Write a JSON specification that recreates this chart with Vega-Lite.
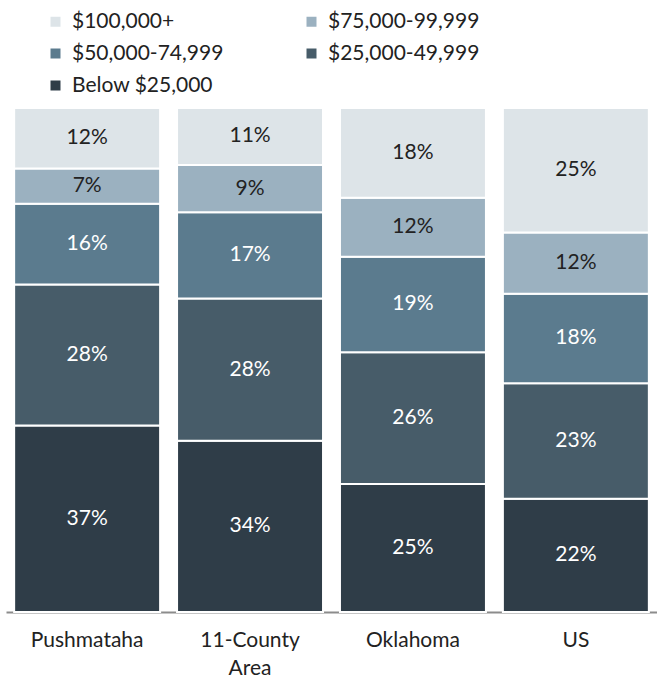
{
  "$schema": "https://vega.github.io/schema/vega-lite/v6.json",
  "width": 651,
  "height": 504,
  "autosize": {"type": "none"},
  "padding": {"left": 6, "top": 108, "right": 0, "bottom": 77},
  "config": {
    "view": {"stroke": null},
    "font": "Lato",
    "text": {"font": "Lato"}
  },
  "data": {
    "values": [
      {"area": "Pushmataha", "bracket": "Below $25,000", "ord": 1, "pct": 37, "label": "37%"},
      {"area": "Pushmataha", "bracket": "$25,000-49,999", "ord": 2, "pct": 28, "label": "28%"},
      {"area": "Pushmataha", "bracket": "$50,000-74,999", "ord": 3, "pct": 16, "label": "16%"},
      {"area": "Pushmataha", "bracket": "$75,000-99,999", "ord": 4, "pct": 7, "label": "7%"},
      {"area": "Pushmataha", "bracket": "$100,000+", "ord": 5, "pct": 12, "label": "12%"},
      {"area": "11-County Area", "bracket": "Below $25,000", "ord": 1, "pct": 34.0, "label": "34%"},
      {"area": "11-County Area", "bracket": "$25,000-49,999", "ord": 2, "pct": 28.2, "label": "28%"},
      {"area": "11-County Area", "bracket": "$50,000-74,999", "ord": 3, "pct": 17.1, "label": "17%"},
      {"area": "11-County Area", "bracket": "$75,000-99,999", "ord": 4, "pct": 9.4, "label": "9%"},
      {"area": "11-County Area", "bracket": "$100,000+", "ord": 5, "pct": 11.3, "label": "11%"},
      {"area": "Oklahoma", "bracket": "Below $25,000", "ord": 1, "pct": 25.2, "label": "25%"},
      {"area": "Oklahoma", "bracket": "$25,000-49,999", "ord": 2, "pct": 26, "label": "26%"},
      {"area": "Oklahoma", "bracket": "$50,000-74,999", "ord": 3, "pct": 18.8, "label": "19%"},
      {"area": "Oklahoma", "bracket": "$75,000-99,999", "ord": 4, "pct": 11.6, "label": "12%"},
      {"area": "Oklahoma", "bracket": "$100,000+", "ord": 5, "pct": 17.7, "label": "18%"},
      {"area": "US", "bracket": "Below $25,000", "ord": 1, "pct": 22.4, "label": "22%"},
      {"area": "US", "bracket": "$25,000-49,999", "ord": 2, "pct": 22.8, "label": "23%"},
      {"area": "US", "bracket": "$50,000-74,999", "ord": 3, "pct": 17.7, "label": "18%"},
      {"area": "US", "bracket": "$75,000-99,999", "ord": 4, "pct": 12.1, "label": "12%"},
      {"area": "US", "bracket": "$100,000+", "ord": 5, "pct": 24.6, "label": "25%"}
    ]
  },
  "transform": [
    {"stack": "pct", "groupby": ["area"], "sort": [{"field": "ord", "order": "ascending"}], "offset": "normalize", "as": ["y0", "y1"]},
    {"calculate": "(datum.y0 + datum.y1) / 2", "as": "ymid"}
  ],
  "encoding": {
    "x": {
      "field": "area",
      "type": "nominal",
      "sort": ["Pushmataha", "11-County Area", "Oklahoma", "US"],
      "scale": {"paddingInner": 0.104, "paddingOuter": 0.05},
      "axis": {
        "title": null,
        "labelAngle": 0,
        "labelFontSize": 21,
        "labelColor": "#222222",
        "labelPadding": 17,
        "labelLineHeight": 28,
        "ticks": false,
        "domainColor": "#8c8c8c",
        "domainWidth": 2,
        "labelExpr": "datum.value == '11-County Area' ? ['11-County', 'Area'] : datum.label"
      }
    }
  },
  "layer": [
    {
      "mark": {"type": "bar", "stroke": "white", "strokeWidth": 2},
      "encoding": {
        "y": {"field": "y0", "type": "quantitative", "scale": {"domain": [0, 1]}, "axis": null},
        "y2": {"field": "y1"},
        "color": {
          "field": "bracket",
          "type": "nominal",
          "scale": {
            "domain": ["$100,000+", "$75,000-99,999", "$50,000-74,999", "$25,000-49,999", "Below $25,000"],
            "range": ["#dde4e8", "#9bb1c0", "#5b7b8e", "#475c69", "#2f3d48"]
          },
          "legend": {
            "title": null,
            "orient": "none",
            "direction": "horizontal",
            "legendX": 39,
            "legendY": -97,
            "columns": 2,
            "symbolType": "square",
            "symbolSize": 100,
            "symbolStrokeWidth": 0,
            "labelFontSize": 21,
            "labelColor": "#222222",
            "labelOffset": 6,
            "rowPadding": 10,
            "columnPadding": 77,
            "labelLimit": 300
          }
        }
      }
    },
    {
      "mark": {"type": "text", "fontSize": 21, "baseline": "middle", "align": "center"},
      "encoding": {
        "y": {"field": "ymid", "type": "quantitative", "scale": {"domain": [0, 1]}, "axis": null},
        "text": {"field": "label"},
        "color": {"condition": {"test": "datum.ord >= 4", "value": "#222222"}, "value": "#ffffff"}
      }
    }
  ]
}
